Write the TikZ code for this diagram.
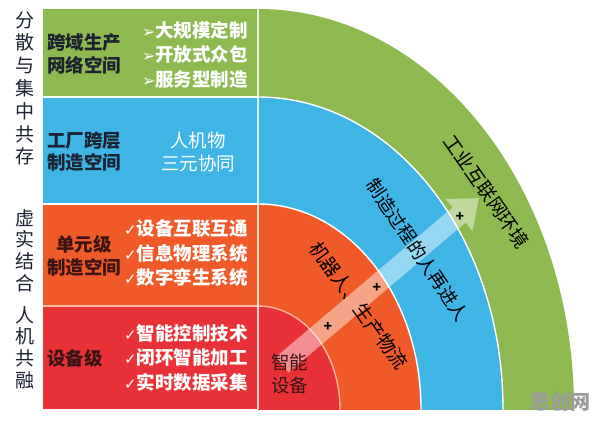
\documentclass[tikz,border=0pt]{standalone}
\usepackage{fontspec}
\setmainfont{Noto Sans CJK SC}
\newfontfamily\symfont{DejaVu Sans}
\usetikzlibrary{calc}
\definecolor{cgreen}{HTML}{8DB950}
\definecolor{cblue}{HTML}{3FB5E6}
\definecolor{corange}{HTML}{EF5A28}
\definecolor{cred}{HTML}{E83237}
\definecolor{cdark}{HTML}{1C2230}
\definecolor{cdarkred}{HTML}{3A1412}
\definecolor{cmark}{HTML}{9B9B9B}
\begin{document}
\begin{tikzpicture}[x=1pt,y=-1pt,
  every node/.style={inner sep=0pt, outer sep=0pt},
  sidelabel/.style={text=cdark, align=center, font=\fontsize{19}{22.8}\selectfont},
  panellabel/.style={align=center, font=\fontsize{18.5}{22.5}\selectfont\bfseries},
  itemlist/.style={anchor=west, align=left, text=white, font=\fontsize{18.5}{24.5}\selectfont\bfseries},
  arclabel/.style={text=black, font=\fontsize{18.5}{22}\selectfont},
  plusmark/.style={text=black, font=\fontsize{14}{14}\selectfont\bfseries},
  rowline/.style={white, line width=1.3pt},
  ringline/.style={white, line width=1.4pt}]
\useasboundingbox (0,0) rectangle (596,422);
\fill[white] (0,0) rectangle (596,422);

% left panel rows
\fill[cgreen]  (43,9)   rectangle (258,97);
\fill[cblue]   (43,97)  rectangle (258,204);
\fill[corange] (43,204) rectangle (258,306);
\fill[cred]    (43,306) rectangle (258,409);
\draw[rowline] (43,97) -- (258,97);
\draw[rowline] (43,204) -- (258,204);
\draw[rowline, white!60!corange] (43,306) -- (258,306);

% quarter rings
\begin{scope}
  \clip (258,0) rectangle (596,409);
  \fill[cgreen]  (258,409) ellipse (316pt and 400pt);
  \fill[cblue]   (258,409) ellipse (245pt and 312pt);
  \fill[corange] (258,409) ellipse (163pt and 205pt);
  \fill[cred]    (258,409) ellipse (82pt and 103pt);
  \draw[ringline] (258,409) ellipse (245pt and 312pt);
  \draw[ringline] (258,409) ellipse (163pt and 205pt);
  \draw[ringline, white!55!corange] (258,409) ellipse (82pt and 103pt);
\end{scope}
\draw[white, line width=1.3pt, opacity=0.8] (258,9) -- (258,409);

% translucent arrow
\coordinate (atail) at (282,365);
\coordinate (abase) at (459,215);
\coordinate (atip) at ($(abase)!-26pt!(atail)$);
\fill[white, fill opacity=0.45]
  ($(atail)!10pt!90:(abase)$) -- ($(abase)!10pt!-90:(atail)$) --
  ($(abase)!21pt!-90:(atail)$) -- (atip) --
  ($(abase)!21pt!90:(atail)$) -- ($(abase)!10pt!90:(atail)$) --
  ($(atail)!10pt!-90:(abase)$) -- cycle;

% side labels
\node[sidelabel] (s1) at (25,88.5) {分\\散\\与\\集\\中\\共\\存};
\node[sidelabel, font=\fontsize{19}{21.7}\selectfont] (s2) at (25,250.5) {虚\\实\\结\\合};
\node[sidelabel, font=\fontsize{19}{21.7}\selectfont] (s3) at (25,347.5) {人\\机\\共\\融};

% panel labels
\node[panellabel, text=cdark] (g1) at (84,54) {跨域生产\\网络空间};
\node[itemlist] (g2) at (142,54.5) {{\symfont\fontsize{16}{16}\selectfont ➢}大规模定制\\{\symfont\fontsize{16}{16}\selectfont ➢}开放式众包\\{\symfont\fontsize{16}{16}\selectfont ➢}服务型制造};
\node[panellabel, text=cdark] (b1) at (84,151.5) {工厂跨层\\制造空间};
\node[panellabel, text=white, font=\fontsize{18.5}{23}\selectfont] (b2) at (198,151.5) {人机物\\三元协同};
\node[panellabel, text=cdarkred] (o1) at (84,256) {单元级\\制造空间};
\node[itemlist] (o2) at (124,253.5) {{\symfont\fontsize{15}{15}\selectfont ✓}设备互联互通\\{\symfont\fontsize{15}{15}\selectfont ✓}信息物理系统\\{\symfont\fontsize{15}{15}\selectfont ✓}数字孪生系统};
\node[panellabel, text=cdarkred] (r1) at (75,358) {设备级};
\node[itemlist] (r2) at (124,357.5) {{\symfont\fontsize{15}{15}\selectfont ✓}智能控制技术\\{\symfont\fontsize{15}{15}\selectfont ✓}闭环智能加工\\{\symfont\fontsize{15}{15}\selectfont ✓}实时数据采集};

% ring labels
\node[arclabel, rotate=-55, font=\fontsize{19}{22}\selectfont] (t1) at (486.5,191.5) {工业互联网环境};
\node[arclabel, rotate=-56] (t2) at (417.5,250) {制造过程的人再进人};
\node[arclabel, rotate=-54, font=\fontsize{19}{22}\selectfont] (t3) at (358.5,305.5) {机器人、生产物流};
\node[arclabel, align=center, text=cdarkred, font=\fontsize{18.5}{23}\selectfont] (t4) at (289.5,373.5) {智能\\设备};

% plus marks
\node[plusmark] (p1) at (328,327) {+};
\node[plusmark] (p2) at (377,288) {+};
\node[plusmark] (p3) at (460,217) {+};

% watermark
\node[text=cmark, font=\fontsize{20}{20}\selectfont\bfseries] (wm) at (560,402) {思创网};
\end{tikzpicture}
\end{document}
